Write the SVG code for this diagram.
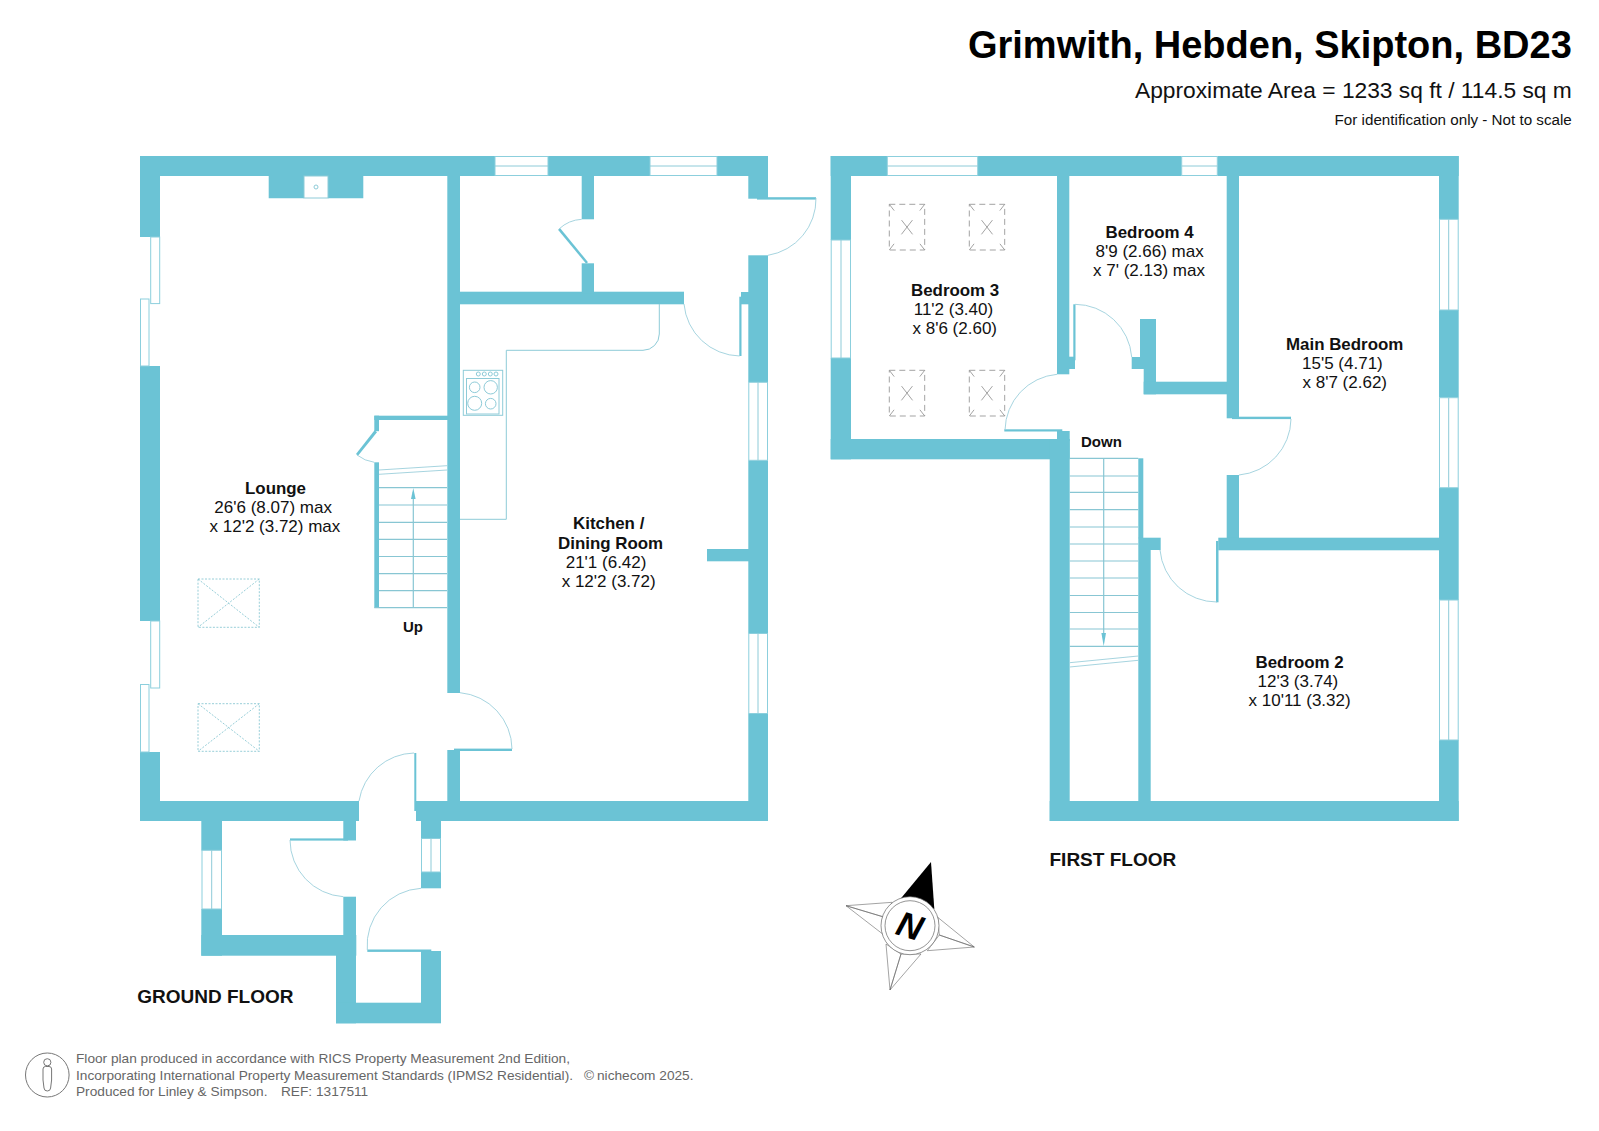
<svg xmlns="http://www.w3.org/2000/svg" width="1599" height="1131" viewBox="0 0 1599 1131">
<style>
.w{fill:#6bc3d5;stroke:none}
.win{fill:#fff;stroke:#8ccfdd;stroke-width:1}
.t{fill:none;stroke:#8ecbd8;stroke-width:1}
.a{fill:none;stroke:#9ccfdb;stroke-width:.9}
.s{fill:none;stroke:#88c6d3;stroke-width:1.2}
.sky{fill:none;stroke:#8cc8d4;stroke-width:.9;stroke-dasharray:2 1.5}
.sk2{fill:none;stroke:#999;stroke-width:.9;stroke-dasharray:6 4}
.sk3{fill:none;stroke:#999;stroke-width:.9;stroke-dasharray:8 12 18 12 8}
text{font-family:"Liberation Sans",Arial,sans-serif;fill:#111}
.b{font-size:16.9px;font-weight:bold}
.r{font-size:17px}
.h{font-size:19px;font-weight:bold}
.f{font-size:13.68px;fill:#666}
.c{fill:#fff;stroke:#666;stroke-width:.6}
</style>
<rect width="1599" height="1131" fill="#fff"/>
<g id="ground-floor">
<g id="ground-walls">
<rect class="w" x="140" y="156" width="355" height="20"/>
<rect class="w" x="548" y="156" width="102" height="20"/>
<rect class="w" x="717" y="156" width="51" height="20"/>
<rect class="w" x="140" y="156" width="20" height="81"/>
<rect class="w" x="140" y="366" width="20" height="255"/>
<rect class="w" x="140" y="752" width="20" height="69"/>
<rect class="w" x="140" y="801" width="219" height="20"/>
<rect class="w" x="416" y="801" width="352" height="20"/>
<rect class="w" x="414.3" y="753" width="2" height="58"/>
<path class="w" d="M268.7 176H304V198.3H268.7ZM328 176H363.3V198.3H328Z"/>
<rect class="w" x="447.3" y="156" width="12.7" height="537"/>
<rect class="w" x="447.3" y="750" width="12.7" height="55"/>
<rect class="w" x="454" y="748.6" width="58" height="2.4"/>
<rect class="w" x="460" y="291.7" width="224" height="12.6"/>
<rect class="w" x="581.7" y="176" width="12.3" height="43.3"/>
<rect class="w" x="581.7" y="263.3" width="12.3" height="30"/>
<rect class="w" x="748.3" y="156" width="19.7" height="42.7"/>
<rect class="w" x="748.3" y="255.3" width="19.7" height="127"/>
<rect class="w" x="748.3" y="460.3" width="19.7" height="173.2"/>
<rect class="w" x="748.3" y="713.5" width="19.7" height="107.5"/>
<rect class="w" x="757" y="197.2" width="59" height="2.4"/>
<rect class="w" x="739.3" y="296.7" width="2.2" height="59.3"/>
<rect class="w" x="741" y="292" width="8" height="12.3"/>
<rect class="w" x="707" y="549" width="42" height="12.3"/>
<rect class="w" x="374.3" y="415.7" width="74" height="4.3"/>
<rect class="w" x="374.3" y="415.7" width="4.7" height="15.5"/>
<rect class="w" x="374.3" y="462.3" width="4.7" height="145.4"/>
<path class="w" d="M374.6 430.2L377 432.2L358 455.8L356 454Z"/>
<path class="w" d="M586 263.5L588 262.2L560.2 228.2L558 229.8Z"/>
</g>
<g id="ground-porch">
<rect class="w" x="201.3" y="821" width="20.7" height="29.5"/>
<rect class="w" x="201.3" y="909" width="20.7" height="46.7"/>
<rect class="w" x="201.3" y="935" width="155" height="20.7"/>
<rect class="w" x="343.3" y="821" width="12.7" height="19.5"/>
<rect class="w" x="290" y="838.4" width="58" height="2.2"/>
<rect class="w" x="343.3" y="896.7" width="12.7" height="60"/>
<rect class="w" x="336" y="955" width="20" height="68.3"/>
<rect class="w" x="336" y="1002.7" width="105" height="20.6"/>
<rect class="w" x="421" y="951" width="20" height="72"/>
<rect class="w" x="367.3" y="949.5" width="64" height="2.4"/>
<rect class="w" x="421" y="821" width="20" height="17.5"/>
<rect class="w" x="421" y="872" width="20" height="16.3"/>
</g>
<g id="ground-windows">
<rect class="win" x="495" y="156.5" width="53" height="19"/><path class="t" d="M495 166H548"/>
<rect class="win" x="650" y="156.5" width="67" height="19"/><path class="t" d="M650 166H717"/>
<rect class="win" x="150.7" y="237" width="9" height="66.6"/>
<rect class="win" x="140.5" y="299" width="8.5" height="67"/>
<rect class="win" x="150.7" y="621" width="9" height="67"/>
<rect class="win" x="140.5" y="684.5" width="8.5" height="67.5"/>
<rect class="win" x="748.8" y="382.3" width="18.7" height="78"/><path class="t" d="M758 382.3V460.3"/>
<rect class="win" x="748.8" y="633.5" width="18.7" height="80"/><path class="t" d="M758 633.5V713.5"/>
<rect class="win" x="202" y="850.3" width="19.5" height="58.7"/><path class="t" d="M211.7 850.3V909"/>
<rect class="win" x="421.5" y="838.5" width="19" height="33.5"/><path class="t" d="M431 838.5V872"/>
</g>
<g id="ground-fittings">
<rect class="t" x="304" y="176" width="24" height="22"/>
<circle class="t" cx="316" cy="187" r="2"/>
<path class="a" d="M460 692.7A57 57 0 0 1 512 749"/>
<path class="a" d="M359 801A57 57 0 0 1 414 753"/>
<path class="a" d="M816 198A57 57 0 0 1 768 255.3"/>
<path class="a" d="M684 304A57 57 0 0 0 739.5 356"/>
<path class="a" d="M559 229A36 36 0 0 1 581.7 219.3"/>
<path class="a" d="M357 455A36 36 0 0 0 374.3 462.3"/>
<path class="a" d="M290 840A57 57 0 0 0 343.3 896.7"/>
<path class="a" d="M421 888.3A57 57 0 0 0 367.3 950"/>
<path class="t" d="M460 519.3H506.3V350.3H643A16.3 16.3 0 0 0 659.3 334V304"/>
<rect class="t" x="463.3" y="370.3" width="39.4" height="45"/>
<rect class="t" x="466.5" y="378.5" width="32.5" height="35.5"/>
<circle class="t" cx="474.7" cy="387.3" r="5.3"/><circle class="t" cx="490.7" cy="387.3" r="6.7"/>
<circle class="t" cx="474.7" cy="403.3" r="7"/><circle class="t" cx="490.7" cy="403.7" r="5.3"/>
<circle class="t" cx="478.3" cy="374" r="2"/><circle class="t" cx="484.3" cy="374" r="2"/><circle class="t" cx="490.3" cy="374" r="2"/><circle class="t" cx="496" cy="374" r="2"/>
<path class="s" d="M379 487.7H447M379 505H447M379 522.3H447M379 539.3H447M379 556.5H447M379 573.7H447M379 590.7H447M374.3 607.7H447M413.3 607.7V492"/>
<path class="w" d="M413.3 488L411 499H415.6Z"/>
<path class="a" d="M379 470L447 465.7M379 474.3L447 470"/>
<rect class="sky" x="198" y="579" width="61.3" height="48.3"/>
<path class="sky" d="M198 579L259.3 627.3M259.3 579L198 627.3"/>
<rect class="sky" x="198" y="703.7" width="61.3" height="47.6"/>
<path class="sky" d="M198 703.7L259.3 751.3M259.3 703.7L198 751.3"/>
</g>
</g>
<g id="first-floor">
<g id="first-walls">
<rect class="w" x="830.7" y="156" width="56.6" height="20"/>
<rect class="w" x="977.7" y="156" width="204" height="20"/>
<rect class="w" x="1217.3" y="156" width="241.4" height="20"/>
<rect class="w" x="830.7" y="156" width="20.3" height="84"/>
<rect class="w" x="830.7" y="358" width="20.3" height="101.3"/>
<rect class="w" x="830.7" y="439" width="239" height="20.3"/>
<rect class="w" x="1049.7" y="439" width="20" height="382"/>
<rect class="w" x="1057" y="431" width="12.7" height="10"/>
<rect class="w" x="1049.7" y="801" width="409" height="20"/>
<rect class="w" x="1057" y="176" width="12.3" height="198.3"/>
<rect class="w" x="1069" y="356.7" width="6" height="12.3"/>
<rect class="w" x="1073.3" y="304.3" width="2.2" height="56"/>
<rect class="w" x="1131.7" y="357" width="24.3" height="12"/>
<rect class="w" x="1140" y="319" width="16" height="50"/>
<rect class="w" x="1143.7" y="369" width="12.3" height="25.3"/>
<rect class="w" x="1143.7" y="381.7" width="95" height="12.6"/>
<rect class="w" x="1226.7" y="176" width="12.3" height="242.3"/>
<rect class="w" x="1232" y="416.7" width="59" height="2.4"/>
<rect class="w" x="1226.7" y="475" width="12.3" height="65"/>
<rect class="w" x="1218.3" y="537.7" width="221" height="12.6"/>
<rect class="w" x="1216" y="541" width="2.5" height="61.3"/>
<rect class="w" x="1138.3" y="458.3" width="5" height="80"/>
<rect class="w" x="1138.3" y="537.7" width="22.4" height="12.3"/>
<rect class="w" x="1138.3" y="550" width="12.4" height="271"/>
<rect class="w" x="1004.3" y="429.3" width="58" height="2.2"/>
<rect class="w" x="1439" y="156" width="19.7" height="63.3"/>
<rect class="w" x="1439" y="310" width="19.7" height="87.7"/>
<rect class="w" x="1439" y="487.7" width="19.7" height="112.3"/>
<rect class="w" x="1439" y="740" width="19.7" height="81"/>
</g>
<g id="first-windows">
<rect class="win" x="887.3" y="156.5" width="90.4" height="19"/><path class="t" d="M887.3 166H977.7"/>
<rect class="win" x="1181.7" y="156.5" width="35.6" height="19"/><path class="t" d="M1181.7 166H1217.3"/>
<rect class="win" x="831.2" y="240" width="19.3" height="118"/><path class="t" d="M841 240V358"/>
<rect class="win" x="1439.5" y="219.3" width="18.7" height="90.7"/><path class="t" d="M1448.7 219.3V310"/>
<rect class="win" x="1439.5" y="397.7" width="18.7" height="90"/><path class="t" d="M1448.7 397.7V487.7"/>
<rect class="win" x="1439.5" y="600" width="18.7" height="140"/><path class="t" d="M1448.7 600V740"/>
</g>
<g id="first-fittings">
<path class="a" d="M1075 304.3A57 57 0 0 1 1131.7 357"/>
<path class="a" d="M1057 374.3A57 57 0 0 0 1005 430"/>
<path class="a" d="M1291 419A57 57 0 0 1 1239 475"/>
<path class="a" d="M1160 550A57 57 0 0 0 1217 602"/>
<path class="s" d="M1069.7 458.3H1138.3M1069.7 476H1138.3M1069.7 492.3H1138.3M1069.7 509.7H1138.3M1069.7 527H1138.3M1069.7 544H1138.3M1069.7 561H1138.3M1069.7 578H1138.3M1069.7 595.5H1138.3M1069.7 612.5H1138.3M1069.7 629H1138.3M1069.7 646.3H1138.3M1103.7 458.3V636"/>
<path class="w" d="M1103.7 646.3L1101.4 633H1106Z"/>
<path class="a" d="M1069.7 662.7L1138.3 656M1069.7 667L1138.3 660.3"/>
<rect class="sk2" x="889.3" y="204.3" width="35.4" height="45.7"/><path class="sk3" d="M889.3 204.3L924.7 250M924.7 204.3L889.3 250"/>
<rect class="sk2" x="969.3" y="204.3" width="35.4" height="45.7"/><path class="sk3" d="M969.3 204.3L1004.7 250M1004.7 204.3L969.3 250"/>
<rect class="sk2" x="889.3" y="370.3" width="35.4" height="45.7"/><path class="sk3" d="M889.3 370.3L924.7 416M924.7 370.3L889.3 416"/>
<rect class="sk2" x="969.3" y="370.3" width="35.4" height="45.7"/><path class="sk3" d="M969.3 370.3L1004.7 416M1004.7 370.3L969.3 416"/>
</g>
</g>
<g id="labels">
<text class="b" x="245" y="494">Lounge</text>
<text class="r" x="214.3" y="513">26'6 (8.07) max</text>
<text class="r" x="209.5" y="531.7">x 12'2 (3.72) max</text>
<text class="b" x="573" y="529.3">Kitchen /</text>
<text class="b" x="558" y="548.5">Dining Room</text>
<text class="r" x="565.7" y="567.7">21'1 (6.42)</text>
<text class="r" x="561.7" y="586.7">x 12'2 (3.72)</text>
<text class="b" x="911" y="296">Bedroom 3</text>
<text class="r" x="913.7" y="315">11'2 (3.40)</text>
<text class="r" x="912.5" y="334.3">x 8'6 (2.60)</text>
<text class="b" x="1105.5" y="238">Bedroom 4</text>
<text class="r" x="1095.5" y="256.7">8'9 (2.66) max</text>
<text class="r" x="1093" y="276">x 7' (2.13) max</text>
<text class="b" x="1286" y="350">Main Bedroom</text>
<text class="r" x="1302" y="369">15'5 (4.71)</text>
<text class="r" x="1302.5" y="388.3">x 8'7 (2.62)</text>
<text class="b" x="1255.5" y="668.3">Bedroom 2</text>
<text class="r" x="1257.5" y="687.2">12'3 (3.74)</text>
<text class="r" x="1248.5" y="706.2">x 10'11 (3.32)</text>
<text x="1081" y="447.3" font-size="15" font-weight="bold">Down</text>
<text x="403" y="632" font-size="15" font-weight="bold">Up</text>
<text class="h" x="137.3" y="1003.3">GROUND FLOOR</text>
<text class="h" x="1049.5" y="865.7">FIRST FLOOR</text>
<text x="1571.8" y="58.4" text-anchor="end" font-size="38" font-weight="bold" style="fill:#000">Grimwith, Hebden, Skipton, BD23</text>
<text x="1571.8" y="98.4" text-anchor="end" font-size="22.77">Approximate Area = 1233 sq ft / 114.5 sq m</text>
<text x="1571.8" y="125" text-anchor="end" font-size="15.2">For identification only - Not to scale</text>
<text class="f" x="76" y="1063.3">Floor plan produced in accordance with RICS Property Measurement 2nd Edition,</text>
<text class="f" x="76" y="1079.5">Incorporating International Property Measurement Standards (IPMS2 Residential).</text>
<text class="f" x="584" y="1079.5">©</text>
<text class="f" x="597" y="1079.5">nichecom 2025.</text>
<text class="f" x="76" y="1095.8">Produced for Linley &amp; Simpson.</text>
<text class="f" x="281" y="1095.8">REF:</text>
<text class="f" x="316" y="1095.8">1317511</text>
</g>
<g id="person-icon" fill="none" stroke="#777" stroke-width="1">
<ellipse cx="47.3" cy="1075" rx="21.8" ry="22"/>
<circle cx="47.3" cy="1062.3" r="3.6"/>
<path d="M43 1069Q43 1066.5 45.5 1066.5H49Q51.6 1066.5 51.6 1069V1080L50.6 1088Q50.4 1091 47.3 1091Q44.2 1091 44 1088L43 1080Z"/>
</g>
<g id="compass">
<path class="c" d="M846 905.7L892.3 902.3L882.7 916.7ZM846 905.7L882.7 934L882.7 916.7Z"/>
<path class="c" d="M974.3 947L937.7 917.3L939.3 935ZM974.3 947L927.3 950.7L939.3 935Z"/>
<path class="c" d="M890 990L886 944L901 954ZM890 990L921 954L901 954Z"/>
<path d="M931 862L901 898.3L934.3 909Z" fill="#000"/>
<circle cx="910" cy="925.7" r="29" fill="#fff" stroke="#666" stroke-width=".7"/>
<circle cx="910" cy="925.7" r="25" fill="#fff" stroke="#666" stroke-width=".7"/>
<text x="910" y="938" text-anchor="middle" font-size="35" font-weight="bold" font-style="italic" transform="rotate(17 910 925.7)" style="fill:#000">N</text>
</g>
</svg>
